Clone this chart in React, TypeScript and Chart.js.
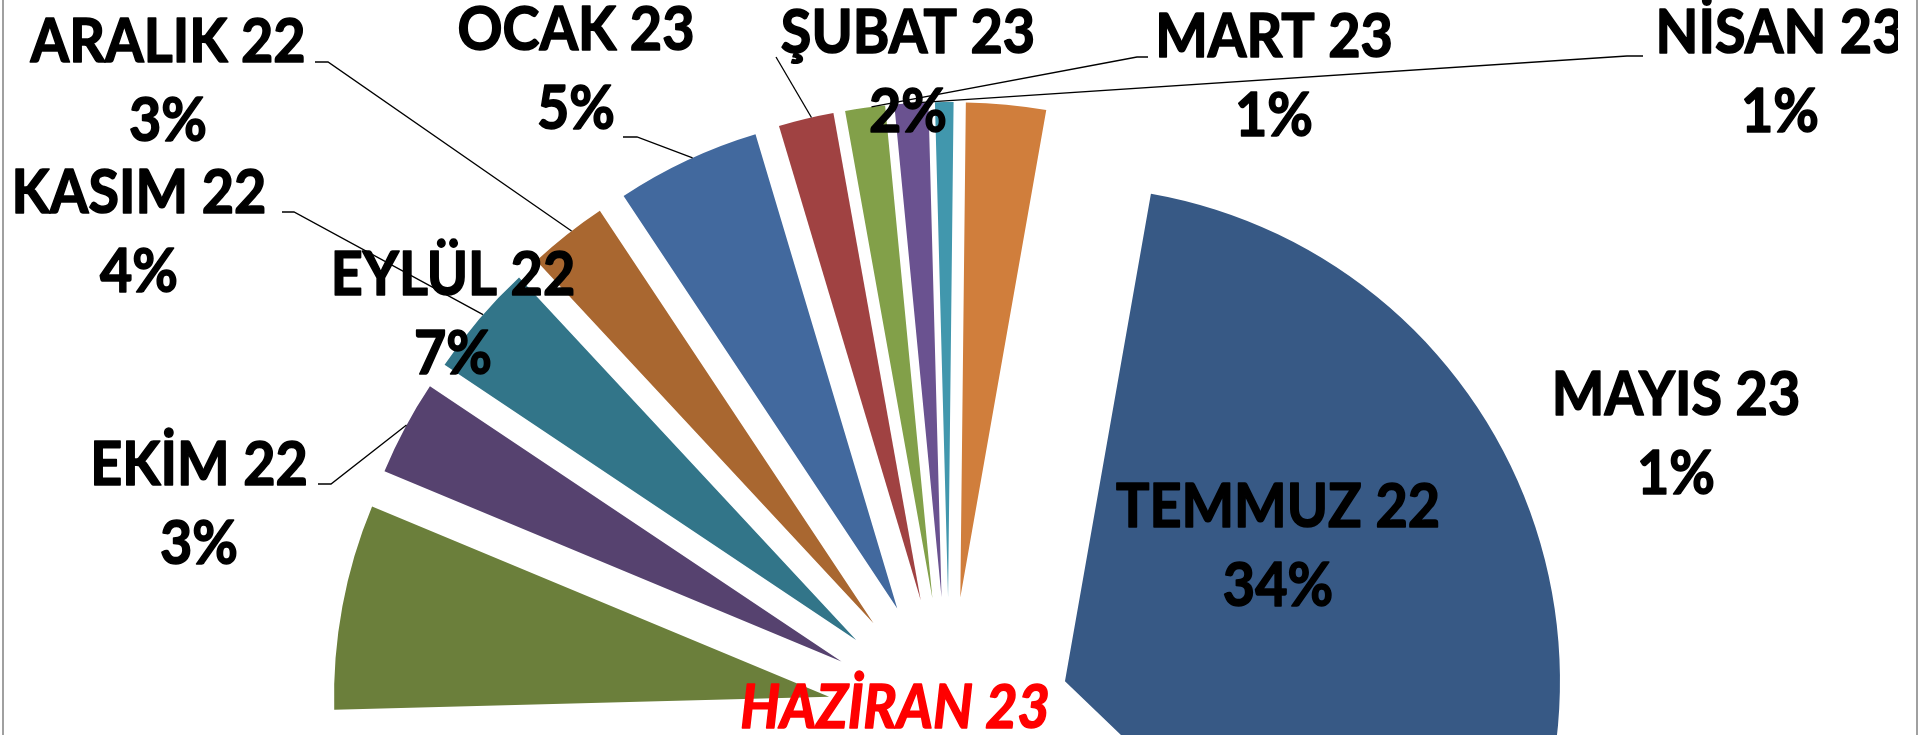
import React, { useEffect, useRef } from "react";
import { Chart, registerables } from "chart.js";

Chart.register(...registerables);

// ---- data ----
const MONTHS = [
  "TEMMUZ 22",
  "AĞUSTOS 22",
  "EYLÜL 22",
  "EKİM 22",
  "KASIM 22",
  "ARALIK 22",
  "OCAK 23",
  "ŞUBAT 23",
  "MART 23",
  "NİSAN 23",
  "MAYIS 23",
  "HAZİRAN 23",
];
const SHARES = [34.4, 37.4, 6.7, 3.1, 3.7, 2.6, 4.7, 1.8, 1.3, 1.1, 0.6, 2.6];
const HIGHLIGHT = "HAZİRAN 23";

// ---- styles / layout ----
const COLORS = [
  "#375985",
  "#8C3836",
  "#6B7F3B",
  "#56426F",
  "#327589",
  "#A96730",
  "#42699E",
  "#A04242",
  "#82A049",
  "#6A5290",
  "#4197AD",
  "#D07E3C",
];
const FIRST_SLICE_ANGLE = 10;
const EXPLODE = 122;
const PIE_RADIUS = 495;
const CANVAS_W = 1898;
const CANVAS_H = 1438;
const FONT_PX = 61;
const REF_TEXT_WIDTH = 275; // width of "ARALIK 22" in the reference
const LINE_GAP = 79;

// label anchor (centre x, baseline y) relative to the pie centre
const LABEL_POS: [number, number][] = [
  [329, -192],
  [-420, 330],
  [-496, -424],
  [-750, -234],
  [-810, -506],
  [-781, -657],
  [-373, -669],
  [-41, -666],
  [325, -662],
  [831, -666],
  [727, -304],
  [-54, 9],
];
// leader line: start (relative to pie centre), horizontal run, fraction along arc
const LEADERS: ({ sx: number; sy: number; h: number; t: number } | null)[] = [
  null,
  null,
  null,
  { sx: -631, sy: -235, h: 13, t: 0.53 },
  { sx: -667, sy: -507, h: 12, t: 0.55 },
  { sx: -634, sy: -657, h: 13, t: 0.57 },
  { sx: -326, sy: -582, h: 14, t: 0.54 },
  { sx: -173, sy: -662, h: 0, t: 0.6 },
  { sx: 199, sy: -662, h: -11, t: 0.66 },
  { sx: 694, sy: -663, h: -16, t: 0.27 },
  null,
  null,
];

const explodePlugin = {
  id: "explodeSlices",
  beforeDatasetsDraw(chart: any) {
    const { chartArea } = chart;
    const cx = (chartArea.left + chartArea.right) / 2;
    const cy = (chartArea.top + chartArea.bottom) / 2;
    const meta = chart.getDatasetMeta(0);
    meta.data.forEach((arc: any) => {
      const mid = (arc.startAngle + arc.endAngle) / 2;
      arc.x = cx + Math.cos(mid) * EXPLODE;
      arc.y = cy + Math.sin(mid) * EXPLODE;
    });
  },
};

const labelPlugin = {
  id: "sliceLabels",
  afterDatasetsDraw(chart: any) {
    const { ctx, chartArea } = chart;
    const cx = (chartArea.left + chartArea.right) / 2;
    const cy = (chartArea.top + chartArea.bottom) / 2;
    const meta = chart.getDatasetMeta(0);
    const total = SHARES.reduce((a, b) => a + b, 0);
    const family = `Lato, "Open Sans", sans-serif`;

    ctx.save();
    ctx.font = `bold ${FONT_PX}px ${family}`;
    const scaleX = REF_TEXT_WIDTH / ctx.measureText("ARALIK 22").width;

    // leader lines
    ctx.strokeStyle = "#000";
    ctx.lineWidth = 1.3;
    LEADERS.forEach((ld, i) => {
      if (!ld) return;
      const arc: any = meta.data[i];
      const a = arc.startAngle + ld.t * (arc.endAngle - arc.startAngle);
      const ex = arc.x + Math.cos(a) * arc.outerRadius;
      const ey = arc.y + Math.sin(a) * arc.outerRadius;
      const x0 = cx + ld.sx;
      const y0 = cy + ld.sy;
      ctx.beginPath();
      ctx.moveTo(x0, y0);
      ctx.lineTo(x0 + ld.h, y0);
      ctx.lineTo(ex, ey);
      ctx.stroke();
    });

    // texts
    ctx.textAlign = "center";
    ctx.textBaseline = "alphabetic";
    ctx.lineJoin = "round";
    MONTHS.forEach((name, i) => {
      const [dx, dy] = LABEL_POS[i];
      const hl = name === HIGHLIGHT;
      const color = hl ? "#FF0000" : "#000000";
      ctx.font = `${hl ? "italic " : ""}bold ${FONT_PX}px ${family}`;
      ctx.fillStyle = color;
      ctx.strokeStyle = color;
      ctx.lineWidth = 1.6;
      const pct = Math.round((SHARES[i] / total) * 100) + "%";
      [name, pct].forEach((txt, k) => {
        ctx.save();
        ctx.translate(cx + dx, cy + dy + k * LINE_GAP);
        ctx.scale(scaleX, 1);
        ctx.fillText(txt, 0, 0);
        ctx.strokeText(txt, 0, 0);
        ctx.restore();
      });
    });
    ctx.restore();
  },
};

export default function App() {
  const canvasRef = useRef<HTMLCanvasElement | null>(null);

  useEffect(() => {
    const canvas = canvasRef.current;
    if (!canvas) return;
    const chart = new Chart(canvas, {
      type: "pie",
      data: {
        labels: MONTHS,
        datasets: [
          {
            data: SHARES,
            backgroundColor: COLORS,
            borderWidth: 0,
          },
        ],
      },
      options: {
        responsive: false,
        animation: false,
        rotation: FIRST_SLICE_ANGLE,
        radius: PIE_RADIUS,
        layout: { padding: 0 },
        events: [],
        plugins: {
          legend: { display: false },
          tooltip: { enabled: false },
        },
      } as any,
      plugins: [explodePlugin, labelPlugin],
    });
    return () => chart.destroy();
  }, []);

  return (
    <div
      style={{
        position: "fixed",
        left: 0,
        top: 0,
        width: 1920,
        height: 735,
        overflow: "hidden",
        background: "#ffffff",
      }}
    >
      <canvas
        ref={canvasRef}
        width={CANVAS_W}
        height={CANVAS_H}
        style={{ position: "absolute", left: 0, top: 0, width: CANVAS_W, height: CANVAS_H }}
      />
      <div
        style={{
          position: "absolute",
          left: 2,
          top: -10,
          width: 1916,
          height: 760,
          boxSizing: "border-box",
          borderLeft: "2px solid #a0a0a0",
          borderRight: "2px solid #a0a0a0",
          pointerEvents: "none",
        }}
      />
    </div>
  );
}
